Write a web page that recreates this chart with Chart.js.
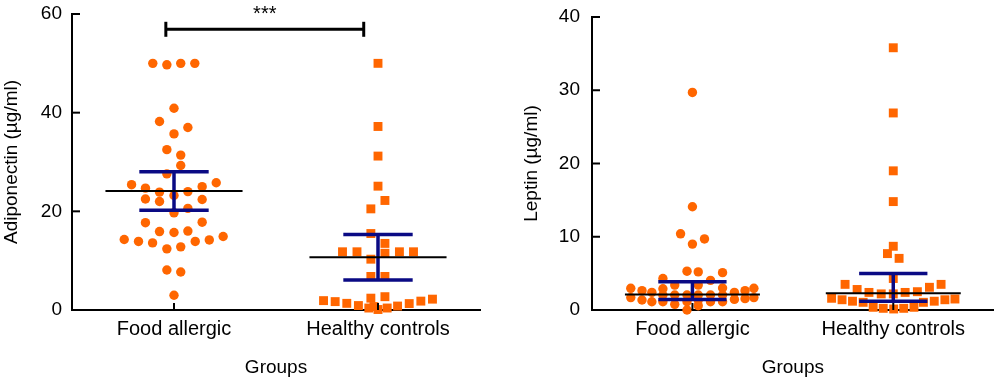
<!DOCTYPE html>
<html lang="en">
<head>
<meta charset="UTF-8">
<title>Adiponectin and leptin by group</title>
<script src="https://cdn.jsdelivr.net/npm/chart.js"></script>
<style>
    body { margin: 0; background: #fff; }
    .wrap { position: relative; width: 1000px; height: 379px; }
    canvas { position: absolute; top: 0; }
    #adipo { left: 0; }
    #leptin { left: 500px; }
</style>
</head>
<body>
<div class="wrap">
    <canvas id="adipo" width="500" height="379"></canvas>
    <canvas id="leptin" width="500" height="379"></canvas>
</div>
<script>
const groups = ["Food allergic", "Healthy controls"];

// Adiponectin (µg/ml), one value per subject; *X = horizontal spread of the dot plot (fraction of group spacing)
const adipoAllergic = [50.0, 49.7, 50.0, 50.0, 40.9, 38.2, 37.0, 35.7, 32.5, 31.4, 29.3, 27.6,
    25.4, 25.8, 24.7, 25.0, 23.9, 24.0, 23.2, 22.5, 22.0, 22.4, 20.6, 19.7, 17.7, 17.8, 15.9, 15.7, 16.0,
    14.3, 13.9, 13.6, 12.4, 12.8, 13.9, 14.2, 14.9, 8.1, 7.7, 3.0];
const adipoAllergicX = [-0.104, -0.035, 0.033, 0.102, 0, -0.071, 0.068, 0, -0.035, 0.033, 0.033, -0.035,
    -0.208, 0.207, -0.14, 0.138, -0.071, 0.068, 0, -0.14, -0.071, 0.138, 0.068, 0, -0.14, 0.138, -0.071, 0, 0.068,
    -0.244, -0.174, -0.105, -0.035, 0.033, 0.104, 0.173, 0.241, -0.035, 0.033, 0];
const adipoHealthy = [50.0, 37.2, 31.2, 25.1, 22.2, 20.5, 15.5, 13.5, 11.8, 11.8, 11.5, 11.8, 11.8, 10.3,
    6.8, 6.8, 2.4, 2.7, 1.9, 1.7, 1.35, 0.9, 0.4, 0.1, 0.4, 0.8, 1.3, 1.8, 2.2, 0.7];
const adipoHealthyX = [0, 0, 0, 0, 0.034, -0.035, -0.035, 0.034, -0.174, -0.103, 0.034, 0.105, 0.174, -0.035,
    -0.035, 0.034, -0.035, 0.034, -0.267, -0.21, -0.153, -0.096, -0.045, 0, 0.045, 0.096, 0.153, 0.21, 0.267, -0.02];
const adipoMedian = [24.1, 10.7];
const adipoQ1 = [20.2, 6.1];
const adipoQ3 = [28.0, 15.3];
const adipoTicks = [0, 20, 40, 60];

// Leptin (µg/ml)
const leptinAllergic = [29.7, 14.1, 10.4, 9.7, 9.0, 5.3, 5.2, 5.1, 4.3, 4.05,
    2.96, 2.64, 2.41, 2.41, 2.64, 2.96, 3.4, 3.4, 2.9, 3.0,
    2.05, 2.05, 2.05, 2.05, 2.05, 2.05,
    1.69, 1.36, 1.13, 1.13, 0.77, 1.13, 1.36, 1.13, 1.13, 1.45, 1.55, 1.69,
    0.0, 0.59];
const leptinAllergicX = [0, 0, -0.059, 0.06, 0, -0.027, 0.029, 0.15, -0.147, 0.09,
    -0.307, -0.251, -0.202, 0.209, 0.262, 0.306, -0.088, 0.029, -0.147, 0.15,
    -0.147, -0.088, -0.027, 0.029, 0.09, 0.15,
    -0.307, -0.251, -0.202, -0.147, -0.088, -0.027, 0.029, 0.09, 0.15, 0.209, 0.262, 0.306,
    -0.027, 0.029];
const leptinHealthy = [35.8, 26.9, 19.0, 14.8, 8.7, 7.7, 7.05, 4.3,
    3.5, 2.8, 2.4, 2.2, 2.2, 2.4, 2.5, 3.1, 3.5,
    1.6, 1.4, 1.2, 1.05, 1.05, 1.2, 1.4, 1.5,
    0.37, 0.23, 0.14, 0.23, 0.37];
const leptinHealthyX = [0, 0, 0, 0, 0, -0.029, 0.029, 0,
    -0.24, -0.18, -0.121, -0.06, 0, 0.059, 0.12, 0.18, 0.238,
    -0.307, -0.255, -0.203, -0.15, 0.15, 0.204, 0.257, 0.307,
    -0.10, -0.05, 0.002, 0.052, 0.103];
const leptinMedian = [2.1, 2.3];
const leptinQ1 = [1.45, 1.2];
const leptinQ3 = [3.85, 5.0];
const leptinTicks = [0, 10, 20, 30, 40];

const orange = "#ff6600";
const navy = "#0a0a84";
const FONT = "'Liberation Sans', Arial, sans-serif";
Chart.defaults.font.family = FONT;
Chart.defaults.color = "#000";

function points(values, offsets, group) {
    return values.map((v, i) => ({ x: group + offsets[i], y: v }));
}

function seg(ctx, x1, y1, x2, y2) {
    ctx.beginPath();
    ctx.moveTo(x1, y1);
    ctx.lineTo(x2, y2);
    ctx.stroke();
}

// medians, IQR bars, inward ticks and the significance bracket
const overlay = {
    id: "overlay",
    afterDatasetsDraw(chart, args, opts) {
        const { ctx, chartArea: area, scales: { x, y } } = chart;
        ctx.save();
        opts.median.forEach((m, i) => {
            const cx = x.getPixelForValue(i);
            const wide = x.getPixelForValue(i + 0.336) - cx;
            const narrow = x.getPixelForValue(i + 0.17) - cx;
            const y1 = y.getPixelForValue(opts.q1[i]);
            const y3 = y.getPixelForValue(opts.q3[i]);
            ctx.strokeStyle = navy;
            ctx.lineWidth = 3.5;
            seg(ctx, cx, y1, cx, y3);
            seg(ctx, cx - narrow, y1, cx + narrow, y1);
            seg(ctx, cx - narrow, y3, cx + narrow, y3);
            ctx.strokeStyle = "#000";
            ctx.lineWidth = 2;
            const ym = y.getPixelForValue(m);
            seg(ctx, cx - wide, ym, cx + wide, ym);
        });

        ctx.strokeStyle = "#000";
        ctx.lineWidth = 2;
        y.ticks.forEach(t => {
            const py = y.getPixelForValue(t.value);
            seg(ctx, area.left, py, area.left + 8, py);
        });
        x.ticks.forEach(t => {
            const px = x.getPixelForValue(t.value);
            seg(ctx, px, area.bottom, px, area.bottom - 7);
        });

        if (opts.bracket) {
            const b = opts.bracket;
            const x1 = x.getPixelForValue(b.from);
            const x2 = x.getPixelForValue(b.to);
            const yb = y.getPixelForValue(b.level);
            ctx.lineWidth = 3;
            seg(ctx, x1, yb, x2, yb);
            seg(ctx, x1, yb - 7.5, x1, yb + 7.5);
            seg(ctx, x2, yb - 7.5, x2, yb + 7.5);
            ctx.fillStyle = "#000";
            ctx.font = "20px " + FONT;
            ctx.textAlign = "center";
            ctx.textBaseline = "alphabetic";
            ctx.fillText(b.label, (x1 + x2) / 2, yb - 9);
        }
        ctx.restore();
    }
};

function makePanel(id, cfg) {
    new Chart(document.getElementById(id), {
        type: "scatter",
        data: {
            datasets: [
                {
                    data: points(cfg.allergic, cfg.allergicX, 0),
                    pointStyle: "circle",
                    pointRadius: 4.7,
                    pointBackgroundColor: orange,
                    pointBorderWidth: 0,
                    clip: false
                },
                {
                    data: points(cfg.healthy, cfg.healthyX, 1),
                    pointStyle: "rect",
                    pointRadius: 6.3,
                    pointBackgroundColor: orange,
                    pointBorderWidth: 0,
                    clip: false
                }
            ]
        },
        options: {
            responsive: false,
            animation: false,
            events: [],
            layout: { padding: cfg.padding },
            plugins: {
                legend: { display: false },
                tooltip: { enabled: false },
                overlay: {
                    median: cfg.median, q1: cfg.q1, q3: cfg.q3,
                    bracket: cfg.bracket
                }
            },
            scales: {
                x: {
                    type: "linear",
                    min: -0.5,
                    max: 1.5,
                    afterBuildTicks: s => { s.ticks = groups.map((g, i) => ({ value: i })); },
                    afterFit: s => { s.height = 69; s.paddingLeft = 0; s.paddingRight = 0; },
                    grid: { display: false, drawTicks: false },
                    border: { display: true, width: 2, color: "#000" },
                    ticks: {
                        autoSkip: false,
                        maxRotation: 0,
                        padding: 7,
                        font: { size: 20 },
                        callback: v => groups[v]
                    },
                    title: {
                        display: true,
                        text: "Groups",
                        font: { size: 19 },
                        padding: { top: 0, bottom: 0 }
                    }
                },
                y: {
                    min: 0,
                    max: cfg.ticks[cfg.ticks.length - 1],
                    afterBuildTicks: s => { s.ticks = cfg.ticks.map(v => ({ value: v })); },
                    afterFit: s => { s.width = 72; s.paddingTop = 0; s.paddingBottom = 0; },
                    grid: { display: false, drawTicks: false },
                    border: { display: true, width: 2, color: "#000" },
                    ticks: { padding: cfg.tickPad, font: { size: 19 } },
                    title: {
                        display: true,
                        text: cfg.title,
                        font: { size: 19 },
                        padding: { top: 0, bottom: 0 }
                    }
                }
            }
        },
        plugins: [overlay]
    });
}

makePanel("adipo", {
    allergic: adipoAllergic, allergicX: adipoAllergicX,
    healthy: adipoHealthy, healthyX: adipoHealthyX,
    median: adipoMedian, q1: adipoQ1, q3: adipoQ3,
    ticks: adipoTicks,
    title: "Adiponectin (µg/ml)",
    tickPad: 10,
    padding: { left: 0, right: 20, top: 14, bottom: 0 },
    bracket: { from: -0.04, to: 0.93, level: 56.9, label: "***" }
});

makePanel("leptin", {
    allergic: leptinAllergic, allergicX: leptinAllergicX,
    healthy: leptinHealthy, healthyX: leptinHealthyX,
    median: leptinMedian, q1: leptinQ1, q3: leptinQ3,
    ticks: leptinTicks,
    title: "Leptin (µg/ml)",
    tickPad: 12,
    padding: { left: 20, right: 3, top: 17, bottom: 0 },
    bracket: null
});
</script>
</body>
</html>
